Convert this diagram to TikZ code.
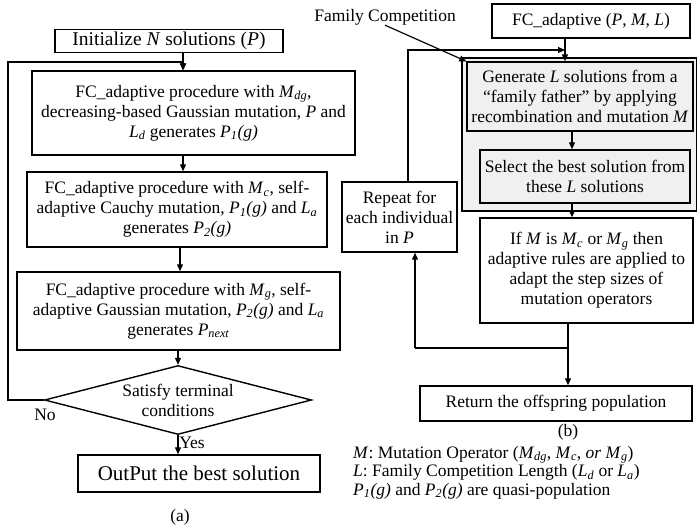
\documentclass[tikz,border=0pt]{standalone}
\usepackage{fontspec}
\setmainfont{Liberation Serif}
\usetikzlibrary{arrows.meta,shapes.geometric}
\newcommand{\vs}[2]{\textit{#1}\textsubscript{\textit{#2}}}

\begin{document}
\begin{tikzpicture}[x=1pt,y=-1pt,
  box/.style={draw,line width=1.4pt,inner sep=0pt,align=center,font=\fontsize{17.5}{20}\selectfont},
  greybox/.style={box,fill=black!6},
  txt/.style={inner sep=0pt,font=\fontsize{17.5}{20}\selectfont},
  link/.style={line width=1.2pt,-{Triangle[length=7pt,width=6pt]}},
  wire/.style={line width=1.2pt}]
\useasboundingbox (0,0) rectangle (697,531);
% (a) main loop
\node[box,minimum width=228,minimum height=23,font=\fontsize{19.5}{20}\selectfont] (init) at (169,41) {Initialize \textit{N} solutions (\textit{P})};
\node[box,minimum width=323,minimum height=84] (fcdg) at (193.5,113) {FC\_adaptive procedure with \vs{M}{dg}, \\ decreasing-based Gaussian mutation, \textit{P} and \\ \vs{L}{d} generates \vs{P}{1}\textit{(g)}};
\node[box,minimum width=300,minimum height=75] (fcc) at (177,209.5) {FC\_adaptive procedure with \vs{M}{c}, self- \\ adaptive Cauchy mutation, \vs{P}{1}\textit{(g)} and \vs{L}{a} \\ generates \vs{P}{2}\textit{(g)}};
\node[box,minimum width=323,minimum height=78] (fcg) at (178.5,311) {FC\_adaptive procedure with \vs{M}{g}, self- \\ adaptive Gaussian mutation, \vs{P}{2}\textit{(g)} and \vs{L}{a} \\ generates \vs{P}{next}};
\node[box,diamond,aspect=3.87,inner sep=-3pt,minimum width=267,minimum height=69] (cond) at (178,400) {Satisfy terminal \\ conditions};
\node[box,minimum width=242,minimum height=37,font=\fontsize{21}{22}\selectfont] (best) at (199,473.5) {OutPut the best solution};
\node[txt] (no) at (45,415) {No};
\node[txt] (yes) at (192,443) {Yes};
\node[txt] (capa) at (180,517) {(a)};
\coordinate (ltop) at (183,62);
\coordinate (lcorner) at (8,62);
\coordinate (ma) at (183,0);
\coordinate (mb) at (180,0);
\draw[link] (init.south -| ltop) -- (ltop |- fcdg.north);
\draw[link] (cond.west) -| (lcorner) -- (ltop) -- (ltop |- fcdg.north);
\draw[link] (fcdg.south -| ma) -- (ma |- fcc.north);
\draw[link] (fcc.south -| mb) -- (mb |- fcg.north);
\draw[link] (fcg.south -| cond.north) -- (cond.north);
\draw[link] (cond.south) -- (cond.south |- best.north);
% (b) family competition
\node[txt] (fam) at (385,17) {Family Competition};
\node[box,minimum width=198,minimum height=34] (fca) at (591,21) {FC\_adaptive (\textit{P}, \textit{M}, \textit{L})};
\node[draw,line width=1.4pt,fill=black!6,minimum width=235,minimum height=153,inner sep=0pt] (fcreg) at (579.5,134.5) {};
\node[greybox,minimum width=226,minimum height=69] (gen) at (580,96.5) {Generate \textit{L} solutions from a \\ ``family father'' by applying \\ recombination and mutation \textit{M}};
\node[greybox,minimum width=210,minimum height=53] (sel) at (585,176.5) {Select the best solution from \\ these \textit{L} solutions};
\node[box,minimum width=213,minimum height=105] (ifm) at (586.5,270.5) {If \textit{M} is \vs{M}{c} or \vs{M}{g} then \\ adaptive rules are applied to \\ adapt the step sizes of \\ mutation operators};
\node[box,minimum width=115,minimum height=70] (rep) at (399.5,217) {Repeat for \\ each individual \\ in \textit{P}};
\node[box,minimum width=272,minimum height=35] (ret) at (556,403.5) {Return the offspring population};
\node[txt] (capb) at (568,432) {(b)};
\node[txt,align=left,anchor=north west,font=\fontsize{17.5}{18.5}\selectfont] (legend) at (353,446) {\textit{M}: Mutation Operator (\vs{M}{dg}, \vs{M}{c}, \textit{or} \vs{M}{g}) \\ \textit{L}: Family Competition Length (\vs{L}{d} or \vs{L}{a}) \\ \vs{P}{1}\textit{(g)} and \vs{P}{2}\textit{(g)} are quasi-population};
\coordinate (rtop) at (565,50);
\coordinate (rloop) at (408,0);
\coordinate (rmid) at (572,0);
\coordinate (junc) at (568,348);
\coordinate (rbot) at (415,348);
\draw[link] (fam.south) -- (gen.north west);
\draw[link] (fca.south -| rtop) -- (rtop |- gen.north);
\draw[link] (rep.north -| rloop) |- (rtop);
\draw[link] (gen.south -| rmid) -- (rmid |- sel.north);
\draw[link] (sel.south -| rmid) -- (rmid |- ifm.north);
\draw[wire] (ifm.south -| junc) -- (junc);
\draw[link] (junc) -- (junc |- ret.north);
\draw[wire] (junc) -- (rbot);
\draw[link] (rbot) -- (rbot |- rep.south);
\end{tikzpicture}
\end{document}
